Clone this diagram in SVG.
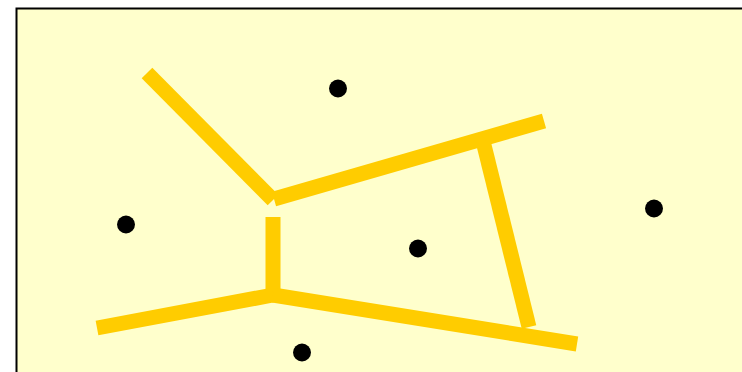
<svg xmlns="http://www.w3.org/2000/svg" width="742" height="372" viewBox="0 0 742 372">
<style>
.edge{stroke:#FFCC00;stroke-width:15;fill:none;stroke-linecap:butt}
.site{fill:#000}
</style>
<rect x="16.5" y="8.5" width="740" height="380" fill="#FFFFCC" stroke="#000" stroke-width="2"/>
<g id="connectors">
<line class="edge" x1="147" y1="73" x2="273" y2="200"/>
<line class="edge" x1="274" y1="199" x2="544" y2="121"/>
<line class="edge" x1="273" y1="217" x2="273" y2="295"/>
<line class="edge" x1="97" y1="328" x2="273" y2="295"/>
<line class="edge" x1="273" y1="295" x2="577" y2="344"/>
<line class="edge" x1="483" y1="141" x2="529" y2="327"/>
</g>
<g id="site1"><circle class="site" cx="338" cy="88.5" r="9"/></g>
<g id="site2"><circle class="site" cx="126" cy="224.5" r="9"/></g>
<g id="site3"><circle class="site" cx="418" cy="248.5" r="9"/></g>
<g id="site4"><circle class="site" cx="654" cy="208.5" r="9"/></g>
<g id="site5"><circle class="site" cx="302" cy="352.5" r="9"/></g>
</svg>
